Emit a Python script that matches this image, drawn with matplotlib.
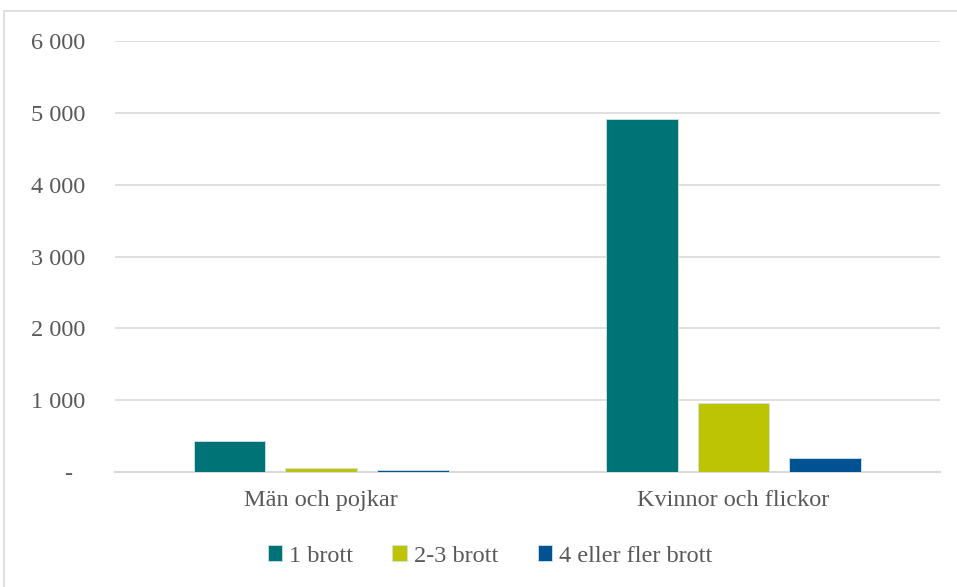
import matplotlib.pyplot as plt
import numpy as np
from matplotlib.patches import Rectangle
from matplotlib.ticker import FuncFormatter

categories = ["Män och pojkar", "Kvinnor och flickor"]
series_names = ["1 brott", "2-3 brott", "4 eller fler brott"]
brott_1 = [430, 4915]
brott_2_3 = [50, 960]
brott_4_plus = [25, 200]
colors = ["#007377", "#bcc404", "#005293"]

plt.rcParams['font.family'] = ['Liberation Serif', 'DejaVu Serif']
text_color = "#595959"
grid_color = "#d9d9d9"

fig = plt.figure(figsize=(9.57, 5.87), dpi=100)
ax = fig.add_axes([0.120, 0.196, 0.862, 0.734])

# light frame round the whole chart
fig.patches.append(Rectangle((4 / 957, -0.01), 1.0, 1 - 11 / 587 + 0.01,
                             transform=fig.transFigure, fill=False,
                             edgecolor=grid_color, linewidth=1.2))

x = np.arange(len(categories))
width = 0.174
step = 0.222
for i, (name, vals) in enumerate(zip(series_names, [brott_1, brott_2_3, brott_4_plus])):
    ax.bar(x + (i - 1) * step, vals, width, label=name, color=colors[i],
           edgecolor="#cfe3e6", linewidth=0.6, zorder=3)

ax.set_xlim(-0.5, 1.5)
ax.set_ylim(0, 6000)
ax.set_yticks(range(0, 6001, 1000))


def fmt(v, pos):
    if v == 0:
        return "-  "
    return f"{int(v):,}".replace(",", " ")


ax.yaxis.set_major_formatter(FuncFormatter(fmt))
ax.grid(axis='y', color=grid_color, linewidth=1.2, zorder=0)
for side in ['top', 'right', 'left']:
    ax.spines[side].set_visible(False)
ax.spines['bottom'].set_color(grid_color)
ax.spines['bottom'].set_linewidth(1.5)

ax.set_xticks(x)
ax.set_xticklabels(categories)
ax.tick_params(axis='both', length=0, labelsize=17.5, colors=text_color)
ax.tick_params(axis='y', pad=21)
ax.tick_params(axis='x', pad=13)

leg = ax.legend(loc='center', bbox_to_anchor=(0.455, -0.195), ncol=3, frameon=False,
                fontsize=17.5, handlelength=0.6, handleheight=0.6, handletextpad=0.3,
                columnspacing=1.6)
for t in leg.get_texts():
    t.set_color(text_color)

fig.savefig("out.png", dpi=100)
